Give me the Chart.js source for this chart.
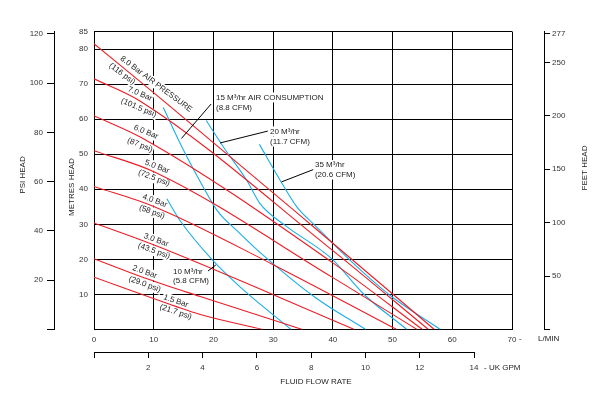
<!DOCTYPE html>
<html>
<head>
<meta charset="utf-8">
<title>Pump performance curve</title>
<script src="https://cdn.jsdelivr.net/npm/chart.js@4.4.1/dist/chart.umd.min.js"></script>
<style>
  html, body { margin: 0; padding: 0; background: #fff; }
  canvas { display: block; }
</style>
</head>
<body>
<canvas id="pumpChart" width="600" height="394"></canvas>
<script>
// ---- values (flow in L/min, head in metres) ----
const flowTicks = [0, 10, 20, 30, 40, 50, 60, 70];
const metreTicks = [0, 10, 20, 30, 40, 50, 60, 70, 80, 85];
const psiTicks = [0, 20, 40, 60, 80, 100, 120];
const feetTicks = [0, 50, 100, 150, 200, 250, 277];
const gpmTicks = [0, 2, 4, 6, 8, 10, 12, 14];

// air pressure curves (red)
const bar80Flow = [0, 11.6, 36.2, 57.0];
const bar80Head = [81.5, 65.3, 30.1, 0];
const bar70Flow = [0, 7.7, 40, 56.0];
const bar70Head = [71.5, 65.2, 22.5, 0];
const bar60Flow = [0, 8.2, 40, 55.0];
const bar60Head = [61.0, 54.5, 19.0, 0];
const bar50Flow = [0, 10.3, 40, 54.1];
const bar50Head = [51.0, 44.8, 14.8, 0];
const bar40Flow = [0, 10.0, 30, 50.7];
const bar40Head = [40.8, 35.1, 18.5, 0];
const bar30Flow = [0, 10.2, 43.6];
const bar30Head = [30.4, 24.0, 0];
const bar20Flow = [0, 8.5, 17.8, 34.9];
const bar20Head = [20.2, 14.7, 9.4, 0];
const bar15Flow = [0, 13.7, 17.8, 28.3];
const bar15Head = [14.9, 6.6, 4.3, 0];

// air consumption curves (blue)
const air10Flow = [12.2, 14.4, 19.9, 24.5, 33.0];
const air10Head = [37.3, 31.1, 19.7, 12.1, 0];
const air15Flow = [11.6, 15.0, 18.3, 20.6, 24.5, 27.8, 37.0, 45.5];
const air15Head = [63.3, 51.1, 40.6, 34.0, 27.3, 22.0, 9.2, 0];
const air20Flow = [18.8, 21.7, 25.6, 27.8, 32.0, 39.8, 45.1, 52.4];
const air20Head = [59.6, 52.0, 42.5, 35.9, 29.7, 20.2, 10.2, 0];
const air35Flow = [27.7, 31.2, 34.0, 37.0, 42.9, 49.6, 58.0];
const air35Head = [52.8, 42.5, 34.9, 29.7, 19.7, 9.7, 0];

// unit conversions for the secondary axes
const PSI_PER_M = 1.4223;
const FT_PER_M = 3.28084;
const L_PER_UKGAL = 4.54609;
const HEAD_MAX = 85;
const FLOW_MAX = 70;

const RED = "#ee1c25";
const BLUE = "#19aee8";
const INK = "#222";
const FONT = '8px "Liberation Sans", Arial, sans-serif';

// curve labels: text, flow, head, angle (deg)
const pressureNotes = [
  ["8.0 Bar AIR PRESSURE", 10.4, 70.0, 37],
  ["(116 psi)", 4.7, 72.9, 37],
  ["7.0 Bar", 7.7, 67.2, 23],
  ["(101.5 psi)", 7.5, 63.2, 23],
  ["6.0 Bar", 8.7, 56.3, 22],
  ["(87 psi)", 7.7, 52.6, 22],
  ["5.0 Bar", 10.55, 46.4, 21],
  ["(72.5 psi)", 10.05, 43.2, 21],
  ["4.0 Bar", 10.2, 36.7, 20],
  ["(58 psi)", 9.7, 33.5, 20],
  ["3.0 Bar", 10.4, 25.5, 20],
  ["(43.5 psi)", 10.05, 22.4, 20],
  ["2.0 Bar", 8.5, 16.4, 20],
  ["(29.0 psi)", 8.5, 12.9, 20],
  ["1.5 Bar", 13.7, 8.1, 19],
  ["(21.7 psi)", 13.7, 5.0, 19],
];

// air consumption labels: text, flow, head (left aligned)
const airNotes = [
  ["15 M\u00b3/hr AIR CONSUMPTION", 20.43, 66.2],
  ["(8.8 CFM)", 20.43, 63.3],
  ["20 M\u00b3/hr", 29.47, 56.5],
  ["(11.7 CFM)", 29.47, 53.6],
  ["35 M\u00b3/hr", 37.0, 46.9],
  ["(20.6 CFM)", 37.0, 44.2],
  ["10 M\u00b3/hr", 13.23, 16.5],
  ["(5.8 CFM)", 13.23, 13.8],
];

// leader lines from the labels to their curves
const leaders = [
  [19.6, 64.3, 14.65, 54.5],
  [29.1, 56.6, 21.1, 53.2],
  [36.7, 45.6, 31.4, 42.1],
  [19.1, 16.7, 20.4, 18.4],
];

function curve(label, flow, head, color) {
  return {
    label: label,
    data: flow.map((f, i) => ({ x: f, y: head[i] })),
    borderColor: color,
    borderWidth: 1.1,
    pointRadius: 0,
    fill: false,
    cubicInterpolationMode: "monotone",
    xAxisID: "x",
    yAxisID: "y",
  };
}

function fixedTicks(list) {
  return (scale) => {
    scale.ticks = list.map((v) => ({ value: v }));
  };
}

function pos(chart, flow, head) {
  return [chart.scales.x.getPixelForValue(flow), chart.scales.y.getPixelForValue(head)];
}

const annotations = {
  id: "annotations",
  // white patches behind the labels break the grid like the print does
  beforeDatasetsDraw(chart) {
    const ctx = chart.ctx;
    ctx.save();
    ctx.font = FONT;
    ctx.fillStyle = "#fff";
    pressureNotes.forEach(([text, f, h, deg]) => {
      const [x, y] = pos(chart, f, h);
      const w = ctx.measureText(text).width;
      ctx.save();
      ctx.translate(x, y);
      ctx.rotate((deg * Math.PI) / 180);
      ctx.fillRect(-w / 2 - 1, -5, w + 2, 10);
      ctx.restore();
    });
    airNotes.forEach(([text, f, h]) => {
      const [x, y] = pos(chart, f, h);
      const w = ctx.measureText(text).width;
      ctx.fillRect(x - 1, y - 5, w + 2, 10);
    });
    ctx.restore();
  },
  afterDatasetsDraw(chart) {
    const ctx = chart.ctx;
    ctx.save();
    ctx.font = FONT;
    ctx.fillStyle = INK;
    ctx.textBaseline = "middle";
    ctx.textAlign = "center";
    pressureNotes.forEach(([text, f, h, deg]) => {
      const [x, y] = pos(chart, f, h);
      ctx.save();
      ctx.translate(x, y);
      ctx.rotate((deg * Math.PI) / 180);
      ctx.fillText(text, 0, 0);
      ctx.restore();
    });
    ctx.textAlign = "left";
    airNotes.forEach(([text, f, h]) => {
      const [x, y] = pos(chart, f, h);
      ctx.fillText(text, x, y);
    });
    ctx.strokeStyle = "#000";
    ctx.lineWidth = 1;
    leaders.forEach(([f1, h1, f2, h2]) => {
      const [x1, y1] = pos(chart, f1, h1);
      const [x2, y2] = pos(chart, f2, h2);
      ctx.beginPath();
      ctx.moveTo(x1, y1);
      ctx.lineTo(x2, y2);
      ctx.stroke();
    });
    ctx.restore();
  },
  afterDraw(chart) {
    const ctx = chart.ctx;
    const gpm = chart.scales.gpm;
    const x = chart.scales.x;
    ctx.save();
    // UK GPM axis line only runs from 0 to 14
    ctx.strokeStyle = "#000";
    ctx.lineWidth = 1;
    ctx.beginPath();
    ctx.moveTo(gpm.getPixelForValue(0), Math.round(gpm.top) + 0.5);
    ctx.lineTo(gpm.getPixelForValue(14), Math.round(gpm.top) + 0.5);
    ctx.stroke();

    ctx.font = FONT;
    ctx.fillStyle = INK;
    ctx.textBaseline = "middle";
    ctx.textAlign = "left";
    ctx.fillText("-", x.getPixelForValue(70) + 7, 339);
    ctx.fillText("L/MIN", 538, 339);
    ctx.fillText("- UK GPM", gpm.getPixelForValue(14) + 10, 368);
    ctx.textAlign = "center";
    ctx.fillText("FLUID FLOW RATE", 316, 382);

    const vertical = (text, cx, cy) => {
      ctx.save();
      ctx.translate(cx, cy);
      ctx.rotate(-Math.PI / 2);
      ctx.fillText(text, 0, 0);
      ctx.restore();
    };
    vertical("PSI HEAD", 22.5, 175);
    vertical("METRES HEAD", 71.5, 187);
    vertical("FEET HEAD", 585, 168);
    ctx.restore();
  },
};

Chart.defaults.font.family = '"Liberation Sans", Arial, sans-serif';
Chart.defaults.font.size = 8;
Chart.defaults.color = "#333";

const tickFont = { size: 8 };
const hideZero = (v) => (v === 0 ? "" : v);

new Chart(document.getElementById("pumpChart"), {
  type: "line",
  data: {
    datasets: [
      curve("8.0 Bar", bar80Flow, bar80Head, RED),
      curve("7.0 Bar", bar70Flow, bar70Head, RED),
      curve("6.0 Bar", bar60Flow, bar60Head, RED),
      curve("5.0 Bar", bar50Flow, bar50Head, RED),
      curve("4.0 Bar", bar40Flow, bar40Head, RED),
      curve("3.0 Bar", bar30Flow, bar30Head, RED),
      curve("2.0 Bar", bar20Flow, bar20Head, RED),
      curve("1.5 Bar", bar15Flow, bar15Head, RED),
      curve("10 M3/hr", air10Flow, air10Head, BLUE),
      curve("15 M3/hr", air15Flow, air15Head, BLUE),
      curve("20 M3/hr", air20Flow, air20Head, BLUE),
      curve("35 M3/hr", air35Flow, air35Head, BLUE),
    ],
  },
  options: {
    responsive: false,
    animation: false,
    events: [],
    layout: { padding: { top: 31.5, left: 0, right: 0, bottom: 0 } },
    plugins: {
      legend: { display: false },
      tooltip: { enabled: false },
    },
    scales: {
      x: {
        type: "linear",
        position: "bottom",
        weight: 0,
        min: 0,
        max: FLOW_MAX,
        afterBuildTicks: fixedTicks(flowTicks),
        afterFit: (s) => { s.height = 22.5; },
        grid: { color: "#000", lineWidth: 1, drawTicks: false },
        border: { color: "#000", width: 1 },
        ticks: { padding: 5, font: tickFont, maxRotation: 0, autoSkip: false },
      },
      gpm: {
        type: "linear",
        position: "bottom",
        weight: 1,
        min: 0,
        max: FLOW_MAX / L_PER_UKGAL,
        afterBuildTicks: fixedTicks(gpmTicks),
        afterFit: (s) => { s.height = 42; },
        grid: { drawOnChartArea: false, color: "#000", tickLength: 6 },
        border: { display: false },
        ticks: { padding: 5, font: tickFont, maxRotation: 0, autoSkip: false, callback: hideZero },
      },
      y: {
        type: "linear",
        position: "left",
        weight: 0,
        min: 0,
        max: HEAD_MAX,
        afterBuildTicks: fixedTicks(metreTicks),
        afterFit: (s) => { s.width = 40; },
        grid: { color: "#000", lineWidth: 1, drawTicks: false },
        border: { color: "#000", width: 1 },
        ticks: { padding: 6, font: tickFont, autoSkip: false, callback: hideZero },
      },
      psi: {
        type: "linear",
        position: "left",
        weight: 1,
        min: 0,
        max: HEAD_MAX * PSI_PER_M,
        afterBuildTicks: fixedTicks(psiTicks),
        afterFit: (s) => { s.width = 54; },
        grid: { drawOnChartArea: false, color: "#000", tickLength: 7 },
        border: { color: "#000", width: 1 },
        ticks: { padding: 4, font: tickFont, autoSkip: false, callback: hideZero },
      },
      gap: {
        type: "linear",
        position: "right",
        weight: 0,
        afterFit: (s) => { s.width = 32; },
        grid: { display: false },
        border: { display: false },
        ticks: { display: false },
      },
      feet: {
        type: "linear",
        position: "right",
        weight: 1,
        min: 0,
        max: HEAD_MAX * FT_PER_M,
        afterBuildTicks: fixedTicks(feetTicks),
        afterFit: (s) => { s.width = 56; },
        grid: { drawOnChartArea: false, color: "#000", tickLength: 6 },
        border: { color: "#000", width: 1 },
        ticks: { padding: 2, font: tickFont, autoSkip: false, callback: hideZero },
      },
    },
  },
  plugins: [annotations],
});
</script>
</body>
</html>
